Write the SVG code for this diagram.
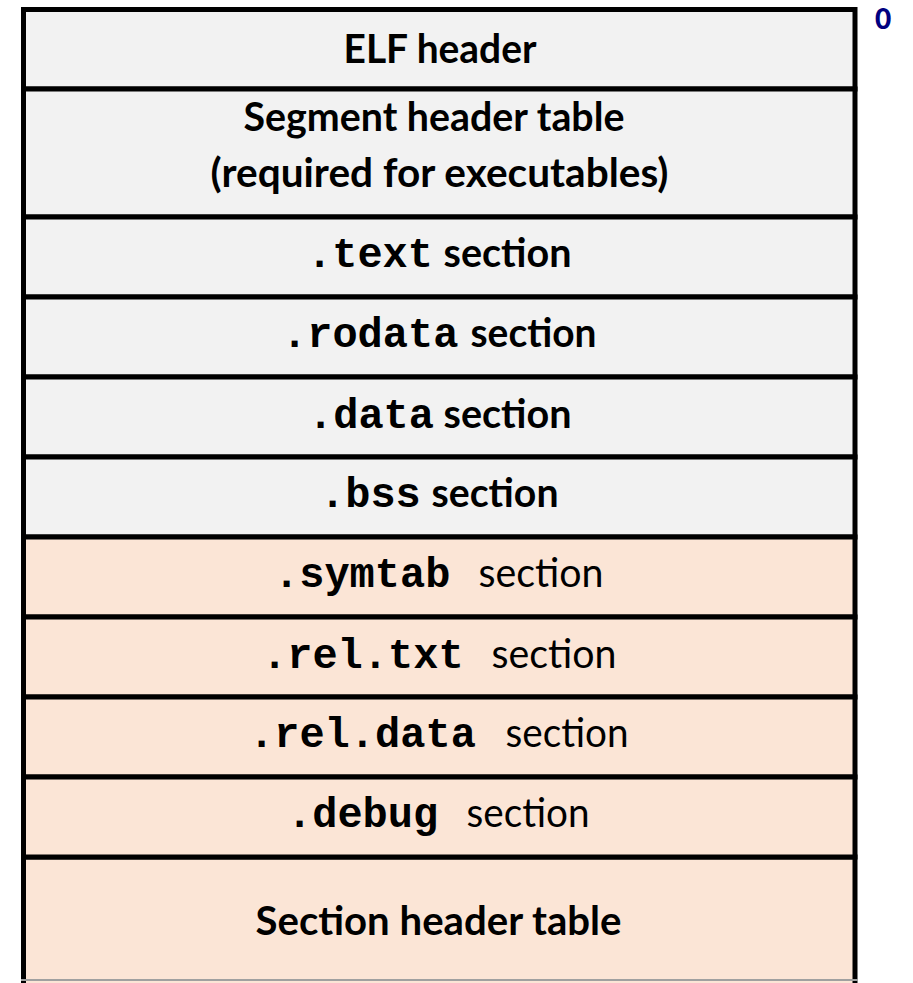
<svg xmlns="http://www.w3.org/2000/svg" width="913" height="983" viewBox="0 0 913 983">
<style>
.g{fill:#F2F2F2;stroke:#000;stroke-width:5}
.p{fill:#FBE5D6;stroke:#000;stroke-width:5}
.s{font-family:Lato,"Liberation Sans",sans-serif;font-size:40px;font-weight:bold;fill:#000}
.r{font-family:Lato,"Liberation Sans",sans-serif;font-size:40px;font-weight:normal;fill:#000}
.m{font-family:"Liberation Mono","Courier New",monospace;font-size:42px;font-weight:bold;fill:#000}
.z{font-family:Lato,"Liberation Sans",sans-serif;font-size:28px;font-weight:900;fill:#000080}
</style>
<rect x="0" y="0" width="913" height="983" fill="#fff"/>
<g id="bottom-row">
<rect class="p" x="23.5" y="857" width="831.5" height="140"/>
<line x1="21" y1="980" x2="858" y2="980" stroke="#a0a0a0" stroke-width="2"/>
<text class="s" x="255.5" y="935" textLength="366" lengthAdjust="spacingAndGlyphs">Section header table</text>
</g>
<g id="elf-header">
<rect class="g" x="23.5" y="9.5" width="831.5" height="79.5"/>
<text class="s" x="343.5" y="63" textLength="193" lengthAdjust="spacingAndGlyphs">ELF header</text>
</g>
<g id="segment-header-table">
<rect class="g" x="23.5" y="89" width="831.5" height="128"/>
<text class="s" x="243.5" y="131" textLength="381" lengthAdjust="spacingAndGlyphs">Segment header table</text>
<text class="s" x="210.5" y="187" textLength="458" lengthAdjust="spacingAndGlyphs">(required for executables)</text>
</g>
<g id="text-section">
<rect class="g" x="23.5" y="217" width="831.5" height="80"/>
<text class="m" x="307" y="267">.text</text>
<text class="s" x="443.5" y="267" textLength="128" lengthAdjust="spacingAndGlyphs">section</text>
</g>
<g id="rodata-section">
<rect class="g" x="23.5" y="297" width="831.5" height="80"/>
<text class="m" x="282" y="347">.rodata</text>
<text class="s" x="470.5" y="347" textLength="126" lengthAdjust="spacingAndGlyphs">section</text>
</g>
<g id="data-section">
<rect class="g" x="23.5" y="377" width="831.5" height="80"/>
<text class="m" x="308" y="428">.data</text>
<text class="s" x="443.5" y="428" textLength="128" lengthAdjust="spacingAndGlyphs">section</text>
</g>
<g id="bss-section">
<rect class="g" x="23.5" y="457" width="831.5" height="80"/>
<text class="m" x="320" y="507">.bss</text>
<text class="s" x="431.5" y="507" textLength="127" lengthAdjust="spacingAndGlyphs">section</text>
</g>
<g id="symtab-section">
<rect class="p" x="23.5" y="537" width="831.5" height="80"/>
<text class="m" x="274" y="587">.symtab</text>
<text class="r" x="478.5" y="587" textLength="125" lengthAdjust="spacingAndGlyphs">section</text>
</g>
<g id="rel-txt-section">
<rect class="p" x="23.5" y="617" width="831.5" height="80"/>
<text class="m" x="262" y="668">.rel.txt</text>
<text class="r" x="491.5" y="668" textLength="125" lengthAdjust="spacingAndGlyphs">section</text>
</g>
<g id="rel-data-section">
<rect class="p" x="23.5" y="697" width="831.5" height="80"/>
<text class="m" x="249" y="747">.rel.data</text>
<text class="r" x="505.5" y="747" textLength="123" lengthAdjust="spacingAndGlyphs">section</text>
</g>
<g id="debug-section">
<rect class="p" x="23.5" y="777" width="831.5" height="80"/>
<text class="m" x="287" y="827">.debug</text>
<text class="r" x="466.5" y="827" textLength="123" lengthAdjust="spacingAndGlyphs">section</text>
</g>
<g id="offset-label">
<text class="z" x="875" y="29">0</text>
</g>
<g id="connectors"></g>
</svg>
